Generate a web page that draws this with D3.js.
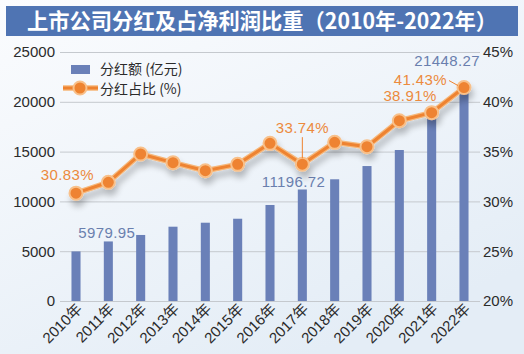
<!DOCTYPE html>
<html><head><meta charset="utf-8">
<script src="https://cdn.jsdelivr.net/npm/d3@7"></script>
<style>body{margin:0;background:#fff}svg{display:block}</style>
</head><body>
<svg id="c" width="524" height="354"></svg>
<script>
const years = ["2010年","2011年","2012年","2013年","2014年","2015年","2016年","2017年","2018年","2019年","2020年","2021年","2022年"];
const dividends = [4980, 5979.95, 6630, 7460, 7860, 8260, 9640, 11196.72, 12220, 13550, 15160, 18400, 21448.27];
const ratios = [30.83, 31.92, 34.76, 33.89, 33.08, 33.72, 35.83, 33.74, 35.93, 35.49, 38.10, 38.91, 41.43];
const leftTicks = [0, 5000, 10000, 15000, 20000, 25000];
const rightTicks = [20, 25, 30, 35, 40, 45];
const title = "上市公司分红及占净利润比重（2010年-2022年）";
const legendLabels = ["分红额 (亿元)", "分红占比 (%)"];
const barLabels = [{i:1, text:"5979.95"}, {i:7, text:"11196.72"}, {i:12, text:"21448.27"}];
const lineLabels = [{i:0, text:"30.83%"}, {i:7, text:"33.74%"}, {i:11, text:"38.91%"}, {i:12, text:"41.43%"}];

const svg = d3.select("#c");
const W = 524, H = 354;
const defs = svg.append("defs");
const bg = defs.append("linearGradient").attr("id","bg").attr("x1","0").attr("y1","0").attr("x2","0.6").attr("y2","1");
bg.append("stop").attr("offset","0").attr("stop-color","#fbfcfe");
bg.append("stop").attr("offset","1").attr("stop-color","#e4edf6");
const sh = defs.append("filter").attr("id","sh").attr("x","-10%").attr("y","-30%").attr("width","120%").attr("height","200%");
sh.append("feGaussianBlur").attr("in","SourceAlpha").attr("stdDeviation","3");
sh.append("feOffset").attr("dy","6").attr("dx","2").attr("result","b");
sh.append("feComponentTransfer").append("feFuncA").attr("type","linear").attr("slope","0.25");
const fm = sh.append("feMerge"); fm.append("feMergeNode"); fm.append("feMergeNode").attr("in","SourceGraphic");

svg.append("rect").attr("width",W).attr("height",H).attr("fill","url(#bg)");

// title
svg.append("rect").attr("x",6).attr("y",6).attr("width",512).attr("height",30).attr("fill","#4f74b3");
svg.append("text").attr("x",262).attr("y",29).attr("text-anchor","middle")
  .attr("fill","#fff").attr("font-size",22).attr("font-weight","bold")
  .attr("font-family","'Noto Sans CJK SC', sans-serif")
  .attr("textLength",470).attr("lengthAdjust","spacingAndGlyphs").text(title);

const x = d3.scaleBand().domain(years).range([60, 480]).paddingInner(0.72).paddingOuter(0.355);
const yL = d3.scaleLinear().domain([0, 25000]).range([301, 52]);
const yR = d3.scaleLinear().domain([20, 45]).range([301, 52]);
const cx = d => x(d) + x.bandwidth()/2;

const font = "'Liberation Sans', Arial, sans-serif";
// grid
svg.append("g").selectAll("line").data(leftTicks).join("line")
  .attr("x1",60).attr("x2",480).attr("y1",d=>yL(d)+0.5).attr("y2",d=>yL(d)+0.5)
  .attr("stroke","#c5c9ce").attr("stroke-width",1);

// left axis
const gl = svg.append("g").attr("transform","translate(60,0)")
  .call(d3.axisLeft(yL).tickValues(leftTicks).tickSize(0).tickPadding(5).tickFormat(d3.format("d")));
gl.select(".domain").remove();
gl.selectAll("text").attr("font-size",15).attr("font-family",font).attr("fill","#2b2b2b");
// right axis
const gr = svg.append("g").attr("transform","translate(480,0)")
  .call(d3.axisRight(yR).tickValues(rightTicks).tickSize(0).tickPadding(3).tickFormat(d=>d+"%"));
gr.select(".domain").remove();
gr.selectAll("text").attr("font-size",15).attr("font-family",font).attr("fill","#2b2b2b");
// x axis
const gx = svg.append("g").attr("transform","translate(0,301)")
  .call(d3.axisBottom(x).tickSize(0).tickPadding(0));
gx.select(".domain").remove();
gx.selectAll("text").attr("font-size",15).attr("font-family","'Liberation Sans','Noto Sans CJK SC', sans-serif").attr("fill","#2b2b2b")
  .attr("text-anchor","end").attr("dy",null).attr("y",0)
  .attr("transform","translate(7,9) rotate(-45)");

// bars
svg.append("g").selectAll("rect").data(years).join("rect")
  .attr("x",d=>x(d)).attr("width",x.bandwidth())
  .attr("y",(d,i)=>yL(dividends[i])).attr("height",(d,i)=>301-yL(dividends[i]))
  .attr("fill","#6a80b8");

// bar labels
const blPos = {1:[27,-3], 7:[23,-2], 12:[16,-21]};
svg.append("g").selectAll("text").data(barLabels).join("text")
  .attr("x",d=>cx(years[d.i]) + blPos[d.i][0])
  .attr("y",d=>yL(dividends[d.i]) + blPos[d.i][1])
  .attr("text-anchor","end").attr("font-size",15).attr("font-family",font)
  .attr("fill","#6a7fae").attr("letter-spacing",0.4).text(d=>d.text);

// line
const line = d3.line().x((d,i)=>cx(years[i])).y(d=>yR(d));
const lg = svg.append("g").attr("filter","url(#sh)");
lg.append("path").datum(ratios).attr("d",line).attr("fill","none")
  .attr("stroke","#f6b77a").attr("stroke-width",5.5).attr("stroke-linejoin","round");
lg.append("path").datum(ratios).attr("d",line).attr("fill","none")
  .attr("stroke","#ee8330").attr("stroke-width",3).attr("stroke-linejoin","round");
lg.selectAll("circle").data(ratios).join("circle")
  .attr("cx",(d,i)=>cx(years[i])).attr("cy",d=>yR(d)).attr("r",6.5)
  .attr("fill","#ee8330").attr("stroke","#f8c08a").attr("stroke-width",2);

// leader lines
svg.append("line").attr("x1",cx(years[7])).attr("x2",cx(years[7]))
  .attr("y1",yR(ratios[7])-27).attr("y2",yR(ratios[7])-6).attr("stroke","#ee8330").attr("stroke-width",1);
svg.append("line").attr("x1",cx(years[12])-15).attr("x2",cx(years[12])-6)
  .attr("y1",yR(ratios[12])-7).attr("y2",yR(ratios[12])-2).attr("stroke","#ee8330").attr("stroke-width",1);

// line labels
const llPos = {0:[18,-13], 7:[0,-31], 11:[5,-12], 12:[-17,-3]};
svg.append("g").selectAll("text").data(lineLabels).join("text")
  .attr("x",d=>cx(years[d.i]) + llPos[d.i][0]).attr("y",d=>yR(ratios[d.i]) + llPos[d.i][1])
  .attr("text-anchor",d=> d.i===7 ? "middle" : "end")
  .attr("font-size",15).attr("font-family",font).attr("fill","#ec8a3d").attr("letter-spacing",0.4)
  .text(d=>d.text);

// legend
svg.append("rect").attr("x",71).attr("y",65).attr("width",19).attr("height",9).attr("fill","#6a80b8");
svg.append("line").attr("x1",63).attr("x2",98).attr("y1",88).attr("y2",88).attr("stroke","#f6b77a").attr("stroke-width",5.5);
svg.append("line").attr("x1",63).attr("x2",98).attr("y1",88).attr("y2",88).attr("stroke","#ee8330").attr("stroke-width",3);
svg.append("circle").attr("cx",80).attr("cy",88).attr("r",6.5).attr("fill","#ee8330").attr("stroke","#f8c08a").attr("stroke-width",2);
svg.append("g").selectAll("text").data(legendLabels).join("text")
  .attr("x",100).attr("y",(d,i)=>74 + i*20)
  .attr("font-size",14).attr("font-family","'Noto Sans CJK SC', sans-serif").attr("fill","#2b2b2b")
  .text(d=>d);
</script>
</body></html>
